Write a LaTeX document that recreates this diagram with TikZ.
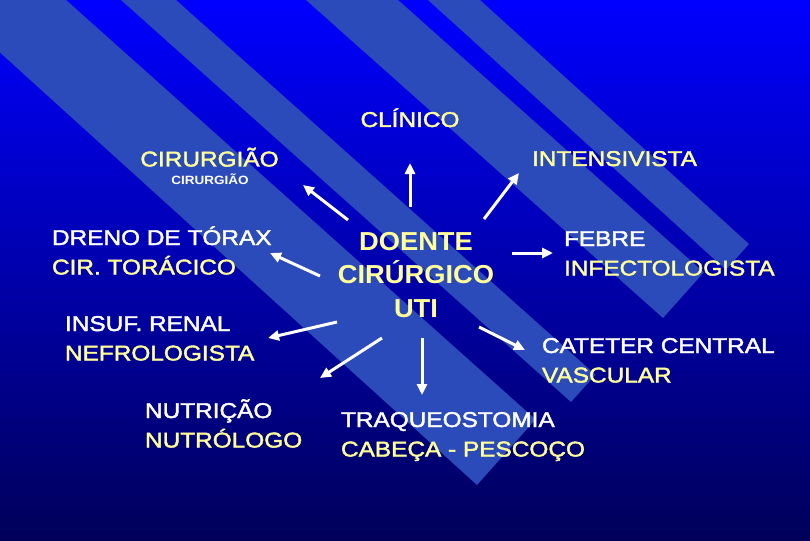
\documentclass[tikz,border=0pt]{standalone}
\usepackage{fontspec}
\usetikzlibrary{arrows.meta}
\newfontfamily\labfont[FakeStretch=1.14,FakeBold=2]{Liberation Sans}
\newfontfamily\smallfont[FakeStretch=1.125]{Liberation Sans}
\newfontfamily\ctrfont[FakeStretch=1.05]{Liberation Sans}
\definecolor{bgtop}{RGB}{0,0,255}
\definecolor{bgmid}{RGB}{0,0,205}
\definecolor{bgbot}{RGB}{0,0,90}
\definecolor{bandcol}{RGB}{42,75,185}
\definecolor{lyellow}{RGB}{255,255,153}
\newcommand{\hstrut}{\rule{0pt}{20pt}}
\begin{document}
\begin{tikzpicture}[x=1pt,y=-1pt,
  band/.style={fill=bandcol, draw=none},
  lab/.style={inner sep=0pt, outer sep=0pt, text=white, align=left, anchor=north west,
    font=\labfont\fontsize{21.4}{29.5}\selectfont},
  single/.style={inner sep=0pt, outer sep=0pt, anchor=base,
    font=\labfont\fontsize{21.4}{29.5}\selectfont},
  small/.style={inner sep=0pt, outer sep=0pt, anchor=base, text=white,
    font=\smallfont\bfseries\fontsize{12}{14}\selectfont},
  ctr/.style={inner sep=0pt, outer sep=0pt, anchor=north, align=center, text=lyellow,
    font=\ctrfont\bfseries\fontsize{26}{33.5}\selectfont},
  arw/.style={draw=white, line width=3pt, -{Triangle[length=11pt,width=10pt]}}
]
\useasboundingbox (0,0) rectangle (810,540);
\clip (0,0) rectangle (810,540);
% background
\shade[top color=bgtop, middle color=bgmid, bottom color=bgbot] (0,0) rectangle (810,540);
% diagonal bands
\fill[band] (-80,0) -- (66,0) -- (535.6,419.4) -- (477,485) -- (-80,-20) -- cycle;
\fill[band] (121,0) -- (176,0) -- (595.4,374.7) -- (571,402) -- cycle;
\fill[band] (306,0) -- (398,0) -- (703.8,272.3) -- (663,318) -- cycle;
\fill[band] (428,0) -- (480,0) -- (749,244) -- (726,269.8) -- cycle;

% labels
\node[ctr] (doente) at (416,225) {\rule{0pt}{25pt}DOENTE\\CIRÚRGICO\\UTI};
\node[single, text=lyellow] (clinico) at (410,127) {CLÍNICO};
\node[single, text=lyellow] (cirurgiao) at (209.5,166.5) {CIRURGIÃO};
\node[small] (cirurgiao2) at (210,184) {CIRURGIÃO};
\node[single, text=lyellow] (intens) at (614.5,166) {INTENSIVISTA};
\node[lab] (dreno) at (52,225) {\hstrut DRENO DE TÓRAX\\\textcolor{lyellow}{CIR. TORÁCICO}};
\node[lab] (febre) at (564,226) {\hstrut FEBRE\\\textcolor{lyellow}{INFECTOLOGISTA}};
\node[lab] (insuf) at (65,311) {\hstrut INSUF. RENAL\\\textcolor{lyellow}{NEFROLOGISTA}};
\node[lab] (cateter) at (542,333) {\hstrut CATETER CENTRAL\\\textcolor{lyellow}{VASCULAR}};
\node[lab] (nutri) at (145,398) {\hstrut NUTRIÇÃO\\\textcolor{lyellow}{NUTRÓLOGO}};
\node[lab] (traq) at (341,407) {\hstrut TRAQUEOSTOMIA\\\textcolor{lyellow}{CABEÇA - PESCOÇO}};

% arrow end points
\coordinate (t1) at (410,207); \coordinate (h1) at (410,163);
\coordinate (t2) at (348,220); \coordinate (h2) at (303,185);
\coordinate (t3) at (484,219); \coordinate (h3) at (519,173);
\coordinate (t4) at (320,276); \coordinate (h4) at (270,253);
\coordinate (t5) at (512,253); \coordinate (h5) at (553,253);
\coordinate (t6) at (337,322); \coordinate (h6) at (268,338);
\coordinate (t7) at (382,338); \coordinate (h7) at (320,378);
\coordinate (t8) at (422,338); \coordinate (h8) at (422,395);
\coordinate (t9) at (479,327); \coordinate (h9) at (525,350);

\draw[arw] (t1) -- (h1);
\draw[arw] (t2) -- (h2);
\draw[arw] (t3) -- (h3);
\draw[arw] (t4) -- (h4);
\draw[arw] (t5) -- (h5);
\draw[arw] (t6) -- (h6);
\draw[arw] (t7) -- (h7);
\draw[arw] (t8) -- (h8);
\draw[arw] (t9) -- (h9);
\end{tikzpicture}
\end{document}
